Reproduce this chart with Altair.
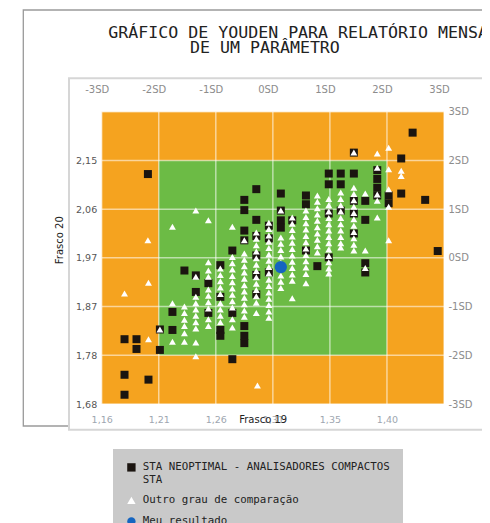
import altair as alt
import pandas as pd

# ---------------- data (SD units; 0 = target, 1 unit = 1 SD) ----------------
sd_ticks = [-3, -2, -1, 0, 1, 2, 3]
x_value_labels = ["1,16", "1,21", "1,26", "1,31", "1,35", "1,40"]   # Frasco 19 at -3..2 SD
y_value_labels = ["1,68", "1,78", "1,87", "1,97", "2,06", "2,15"]   # Frasco 20 at -3..2 SD

zone_x0 = [-3, -2]
zone_x1 = [3, 2]
zone_y0 = [-3, -2]
zone_y1 = [3, 2]
zone_fill = ["#F5A31F", "#6CBB45"]

groups = ["STA NEOPTIMAL - ANALISADORES COMPACTOS STA",
          "Outro grau de comparação",
          "Meu resultado"]

sq_x = [-2.19, -1.55, -1.35, -1.35, -1.13, -1.13, -0.92, -0.92, -0.92, -0.92,
        -0.71, -0.71, -0.71, -0.50, -0.50, -0.50, -0.50, -0.50, -0.50, -0.50,
        -0.29, -0.29, -0.29, -0.29, -0.29, -0.29, -0.07, -0.07, -0.07,
        0.14, 0.14, 0.14, 0.14, 0.34, 0.58, 0.58, 0.58, 0.78,
        0.98, 0.98, 0.98, 0.98, 1.19, 1.19, 1.19,
        1.42, 1.42, 1.42, 1.42, 1.42, 1.62, 1.62, 1.62, 1.62,
        1.83, 1.83, 1.83, 1.83, 2.03, 2.03, 2.25, 2.25, 2.45, 2.67, 2.89,
        -1.76, -1.76, -2.60, -2.39, -2.39, -1.98, -1.98, -2.60, -2.18, -2.60]
sq_y = [1.72, -0.26, -0.36, -0.70, -0.52, -1.13, -0.15, -0.80, -1.48, -1.60,
        0.15, -1.13, -2.08, 1.19, 0.98, 0.56, 0.36, -1.40, -1.60, -1.75,
        1.41, 0.78, 0.45, 0.05, -0.35, -0.75, 0.66, 0.40, -0.30,
        1.32, 0.97, 0.77, 0.62, 0.77, 1.28, 1.10, 0.15, -0.17,
        1.73, 1.51, 0.91, 0.01, 1.73, 1.51, 0.97,
        2.16, 1.73, 1.17, 0.91, 0.50, 1.17, 0.78, -0.11, -0.30,
        1.80, 1.62, 1.44, 1.28, 1.28, 1.12, 2.04, 1.32, 2.57, 1.19, 0.14,
        -1.11, -1.48, -1.67, -1.67, -1.87, -1.47, -1.89, -2.40, -2.50, -2.81]

tri_x = ([-1.55] * 6 + [-1.35] * 10 + [-1.13] * 10 + [-0.92] * 9 + [-0.71] * 12
         + [-0.50] * 12 + [-0.29] * 13 + [-0.27] + [-0.07] * 16 + [0.14] * 10
         + [0.34] * 12 + [0.58] * 12 + [0.78] * 10 + [0.98] * 13 + [1.19] * 10
         + [1.42] * 12 + [1.62] * 3 + [1.83] * 5 + [2.03] * 5 + [2.25] * 2
         + [-1.76, -2.19, -2.18, -2.60, -1.76, -1.76, -2.18, -1.98])
tri_y = ([-1.00, -1.13, -1.27, -1.40, -1.55, -1.72]
         + [0.97, -0.39, -0.80, -0.93, -1.06, -1.19, -1.32, -1.45, -1.74, -2.02]
         + [0.77, -0.09, -0.26, -0.39, -0.65, -0.78, -0.91, -1.04, -1.26, -1.40]
         + [-0.22, -0.35, -0.48, -0.61, -0.74, -0.93, -1.06, -1.19, -1.32]
         + [0.64, 0.02, -0.11, -0.24, -0.37, -0.50, -0.63, -0.76, -0.89, -1.02, -1.26, -1.43]
         + [0.36, 0.09, -0.04, -0.17, -0.30, -0.43, -0.56, -0.69, -0.82, -0.95, -1.08, -1.21]
         + [0.52, 0.39, 0.26, 0.13, -0.01, -0.14, -0.27, -0.40, -0.53, -0.66, -0.79, -0.92, -1.13]
         + [-2.62]
         + [0.72, 0.59, 0.46, 0.33, 0.20, 0.07, -0.06, -0.19, -0.32, -0.45, -0.58, -0.71,
            -0.84, -0.97, -1.10, -1.23]
         + [0.97, 0.42, 0.29, 0.16, 0.03, -0.10, -0.23, -0.36, -0.49, -0.62]
         + [0.83, 0.70, 0.57, 0.44, 0.31, 0.18, 0.05, -0.08, -0.21, -0.34, -0.47, -0.83]
         + [0.97, 0.84, 0.71, 0.58, 0.45, 0.32, 0.19, 0.06, -0.07, -0.20, -0.33, -0.52]
         + [1.28, 1.15, 1.02, 0.89, 0.76, 0.63, 0.50, 0.37, 0.24, 0.11]
         + [1.21, 1.08, 0.95, 0.82, 0.69, 0.56, 0.43, 0.30, 0.17, 0.04, -0.09, -0.22, -0.32]
         + [1.34, 1.21, 1.08, 0.95, 0.82, 0.69, 0.56, 0.43, 0.30, 0.21]
         + [2.16, 1.44, 1.31, 1.18, 1.05, 0.92, 0.79, 0.66, 0.53, 0.40, 0.27, 0.15]
         + [1.32, 0.15, -0.21]
         + [2.14, 1.85, 1.30, 1.17, 0.83]
         + [2.26, 1.82, 1.41, 1.05, 0.36]
         + [1.79, 1.68]
         + [0.64, 0.36, -0.51, -0.73, -0.93, -1.72, -1.67, -1.47])

me_x = [0.14]
me_y = [-0.19]

# ---------------- tables ----------------
zones = pd.DataFrame({"x0": zone_x0, "x1": zone_x1, "y0": zone_y0, "y1": zone_y1, "fill": zone_fill})
grid = pd.DataFrame({"g": sd_ticks, "lo": [-3] * len(sd_ticks), "hi": [3] * len(sd_ticks)})
squares = pd.DataFrame({"x": sq_x, "y": sq_y, "grupo": groups[0]})
triangles = pd.DataFrame({"x": tri_x, "y": tri_y, "grupo": groups[1]})
mine = pd.DataFrame({"x": me_x, "y": me_y, "grupo": groups[2]})
one = pd.DataFrame({"k": [0]})

W, H = 342.3, 292.3
sx = alt.Scale(domain=[-3, 3], nice=False, zero=False)
sy = alt.Scale(domain=[-3, 3], nice=False, zero=False)
LABEL_FONT = "DejaVu Sans"
MONO = "DejaVu Sans Mono"

# decorative frames
outer = alt.Chart(one).mark_rect(fill="white", stroke="#9a9a9a", strokeWidth=1.3).encode(
    x=alt.value(-78.4), x2=alt.value(420), y=alt.value(-101.7), y2=alt.value(314.3))
inner = alt.Chart(one).mark_rect(fill="white", stroke="#d6d6d6", strokeWidth=2).encode(
    x=alt.value(-32.7), x2=alt.value(420), y=alt.value(-33.4), y2=alt.value(318))

title1 = alt.Chart(pd.DataFrame({"t": ["GRÁFICO DE YOUDEN PARA RELATÓRIO MENSAL"]})).mark_text(
    align="left", baseline="alphabetic", font=MONO, fontSize=16.6, color="#222").encode(
    x=alt.value(6.6), y=alt.value(-73.8), text="t:N")
title2 = alt.Chart(pd.DataFrame({"t": ["DE UM PARÂMETRO"]})).mark_text(
    align="left", baseline="alphabetic", font=MONO, fontSize=16.6, color="#222").encode(
    x=alt.value(88.3), y=alt.value(-59.0), text="t:N")

bottom_axis = alt.Axis(
    orient="bottom", values=sd_ticks[:-1], zindex=1,
    labelExpr="['" + "','".join(x_value_labels) + "'][datum.value + 3]",
    grid=False, domain=False, ticks=False, labelPadding=10, labelFlush=False, labelOverlap=False,
    labelColor="#9ea6b0", labelFont=LABEL_FONT, labelFontSize=9.5,
    title="Frasco 19", titleX=161, titleY=10, titleFont=LABEL_FONT, titleFontSize=10,
    titleFontWeight="normal", titleColor="#222", titleAlign="center")
left_axis = alt.Axis(
    orient="left", values=sd_ticks[:-1], zindex=1,
    labelExpr="['" + "','".join(y_value_labels) + "'][datum.value + 3]",
    grid=False, domain=False, ticks=False, labelPadding=5, labelFlush=False, labelOverlap=False,
    labelColor="#555", labelFont=LABEL_FONT, labelFontSize=9.5,
    title="Frasco 20", titleX=-37, titleY=128, titleFont=LABEL_FONT, titleFontSize=10,
    titleFontWeight="normal", titleColor="#222")
top_axis = alt.Axis(
    orient="top", values=sd_ticks, labelExpr="datum.value + 'SD'", zindex=1,
    grid=False, domain=False, ticks=False, labelPadding=17, labelOffset=-5, labelFlush=False,
    labelOverlap=False, labelColor="#8c8c8c", labelFont=LABEL_FONT, labelFontSize=10, title=None)
right_axis = alt.Axis(
    orient="right", values=sd_ticks, labelExpr="datum.value + 'SD'", zindex=1,
    grid=False, domain=False, ticks=False, labelPadding=4, labelFlush=False,
    labelOverlap=False, labelColor="#8c8c8c", labelFont=LABEL_FONT, labelFontSize=10, title=None)

bg = alt.Chart(zones).mark_rect().encode(
    x=alt.X("x0:Q", scale=sx, axis=bottom_axis),
    x2="x1:Q",
    y=alt.Y("y0:Q", scale=sy, axis=left_axis),
    y2="y1:Q",
    fill=alt.Fill("fill:N", scale=None),
)

vgrid = alt.Chart(grid).mark_rule(color="white", opacity=0.55, strokeWidth=1.5).encode(
    x=alt.X("g:Q", scale=sx, axis=None), y=alt.Y("lo:Q", scale=sy, axis=None), y2="hi:Q")
hgrid = alt.Chart(grid).mark_rule(color="white", opacity=0.55, strokeWidth=1.5).encode(
    y=alt.Y("g:Q", scale=sy, axis=None), x=alt.X("lo:Q", scale=sx, axis=None), x2="hi:Q")

first_label = "['STA NEOPTIMAL - ANALISADORES COMPACTOS', 'STA']"
legend = alt.Legend(
    orient="none", legendX=11.3, legendY=337.3, title=None, fillColor="#c9c9c9",
    padding=13, labelFont=MONO, labelFontSize=10.8, labelColor="#222", labelLimit=400,
    labelExpr="datum.label == '" + groups[0] + "' ? " + first_label + " : datum.label",
    symbolSize=70, symbolStrokeWidth=0, rowPadding=9, labelOffset=6)

shape_enc = alt.Shape("grupo:N", scale=alt.Scale(domain=groups, range=["square", "triangle-up", "circle"]),
                      legend=legend)
color_enc = alt.Color("grupo:N", scale=alt.Scale(domain=groups, range=["#1b1510", "#ffffff", "#1565c0"]),
                      legend=legend)


def point_layer(df, size, axes):
    enc = dict(shape=shape_enc, color=color_enc)
    if axes:
        enc["x"] = alt.X("x:Q", scale=sx, axis=top_axis)
        enc["y"] = alt.Y("y:Q", scale=sy, axis=right_axis)
    else:
        enc["x"] = alt.X("x:Q", scale=sx, axis=None)
        enc["y"] = alt.Y("y:Q", scale=sy, axis=None)
    return alt.Chart(df).mark_point(filled=True, opacity=1, size=size).encode(**enc)


pts_sq = point_layer(squares, 64, True)
pts_tri = point_layer(triangles, 48, False)
pts_me = point_layer(mine, 150, False)

chart = alt.layer(outer, inner, title1, title2, bg, vgrid, hgrid, pts_sq, pts_tri, pts_me).resolve_axis(
    x="independent", y="independent"
).properties(
    width=W, height=H,
    autosize=alt.AutoSizeParams(type="none"),
    padding={"left": 93.7, "top": 103.7, "right": 38, "bottom": 134},
).configure_view(stroke=None).configure(background="white")

chart.save("out.html", embed_options={"renderer": "svg", "actions": False})
